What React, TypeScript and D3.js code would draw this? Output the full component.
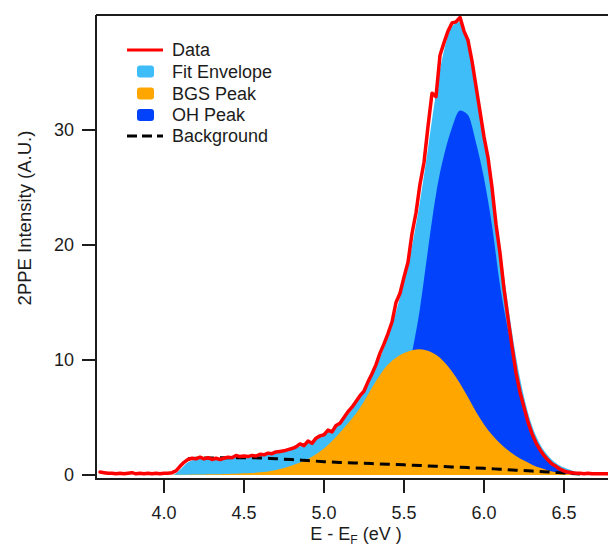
import { useEffect, useRef } from "react";
import * as d3 from "d3";

// measured 2PPE spectrum (red trace), 25 meV steps
const dataEnergy = [
  3.6, 3.625, 3.65, 3.675, 3.7, 3.725, 3.75, 3.775,
  3.8, 3.825, 3.85, 3.875, 3.9, 3.925, 3.95, 3.975,
  4.0, 4.025, 4.05, 4.075, 4.1, 4.125, 4.15, 4.175,
  4.2, 4.225, 4.25, 4.275, 4.3, 4.325, 4.35, 4.375,
  4.4, 4.425, 4.45, 4.475, 4.5, 4.525, 4.55, 4.575,
  4.6, 4.625, 4.65, 4.675, 4.7, 4.725, 4.75, 4.775,
  4.8, 4.825, 4.85, 4.875, 4.9, 4.925, 4.95, 4.975,
  5.0, 5.025, 5.05, 5.075, 5.1, 5.125, 5.15, 5.175,
  5.2, 5.225, 5.25, 5.275, 5.3, 5.325, 5.35, 5.375,
  5.4, 5.425, 5.45, 5.475, 5.5, 5.525, 5.55, 5.575,
  5.6, 5.625, 5.65, 5.675, 5.7, 5.725, 5.75, 5.775,
  5.8, 5.825, 5.85, 5.875, 5.9, 5.925, 5.95, 5.975,
  6.0, 6.025, 6.05, 6.075, 6.1, 6.125, 6.15, 6.175,
  6.2, 6.225, 6.25, 6.275, 6.3, 6.325, 6.35, 6.375,
  6.4, 6.425, 6.45, 6.475, 6.5, 6.525, 6.55, 6.575,
  6.6, 6.625, 6.65, 6.675, 6.7, 6.725, 6.75, 6.775,
];
const dataIntensity = [
  0.25, 0.2, 0.15, 0.15, 0.1, 0.15, 0.1, 0.15,
  0.2, 0.1, 0.15, 0.1, 0.15, 0.1, 0.15, 0.1,
  0.15, 0.15, 0.2, 0.35, 0.75, 1.1, 1.35, 1.45,
  1.4, 1.55, 1.4, 1.5, 1.35, 1.45, 1.35, 1.45,
  1.55, 1.5, 1.7, 1.6, 1.65, 1.6, 1.7, 1.65,
  1.8, 1.75, 1.9, 1.85, 2.0, 2.05, 2.1, 2.2,
  2.3, 2.45, 2.7, 2.55, 2.95, 2.75, 3.2, 3.4,
  3.5, 3.9, 3.75, 4.3, 4.5, 5.0, 5.5, 5.9,
  6.4, 6.9, 7.3, 8.1, 8.8, 9.6, 10.6, 11.4,
  12.3, 13.3, 15.0, 15.8, 17.2, 18.5, 21.0, 22.8,
  25.3, 27.2, 30.3, 33.2, 32.9, 36.5, 37.6, 38.6,
  39.3, 39.4, 39.8, 38.6, 37.8, 36.0, 33.8, 31.6,
  29.4, 27.6, 25.0, 21.8, 19.3, 16.2, 13.6, 11.2,
  8.9, 7.2, 5.9, 4.6, 3.6, 2.8, 2.2, 1.7,
  1.3, 0.95, 0.75, 0.5, 0.35, 0.25, 0.2, 0.15,
  0.15, 0.1, 0.15, 0.1, 0.1, 0.1, 0.1, 0.1,
];

// fit components, 50 meV steps
const fitEnergy = [
  4.0, 4.05, 4.1, 4.15, 4.2, 4.25, 4.3, 4.35, 4.4, 4.45,
  4.5, 4.55, 4.6, 4.65, 4.7, 4.75, 4.8, 4.85, 4.9, 4.95,
  5.0, 5.05, 5.1, 5.15, 5.2, 5.25, 5.3, 5.35, 5.4, 5.45,
  5.5, 5.55, 5.6, 5.65, 5.7, 5.75, 5.8, 5.85, 5.9, 5.95,
  6.0, 6.05, 6.1, 6.15, 6.2, 6.25, 6.3, 6.35, 6.4, 6.45,
  6.5, 6.55, 6.6, 6.65, 6.7, 6.75, 6.8,
];
const fitEnvelope = [
  0, 0, 0.45, 1.1, 1.35, 1.38, 1.4, 1.45, 1.5, 1.55,
  1.6, 1.65, 1.7, 1.78, 1.9, 2.05, 2.25, 2.48, 2.75, 3.07,
  3.45, 3.92, 4.5, 5.25, 6.2, 7.3, 8.6, 10.2, 12.0, 14.2,
  16.8, 19.9, 23.8, 28.4, 33.2, 36.9, 39.0, 39.4, 37.6, 34.1,
  29.6, 24.9, 19.9, 14.8, 10.3, 6.8, 4.3, 2.7, 1.7, 1.05,
  0.65, 0.4, 0.22, 0.12, 0.06, 0.03, 0,
];
const bgsPeak = [
  0, 0.01, 0.02, 0.03, 0.04, 0.05, 0.06, 0.07, 0.09, 0.11,
  0.14, 0.18, 0.23, 0.31, 0.43, 0.6, 0.82, 1.08, 1.4, 1.8,
  2.3, 2.95, 3.7, 4.5, 5.35, 6.4, 7.6, 8.7, 9.6, 10.2,
  10.6, 10.85, 10.93, 10.8, 10.45, 9.85, 9.0, 7.95, 6.75, 5.5,
  4.4, 3.5, 2.75, 2.15, 1.65, 1.25, 0.9, 0.62, 0.4, 0.24,
  0.12, 0.05, 0.02, 0, 0, 0, 0,
];
const ohPeak = [
  0, 0, 0, 0, 0, 0, 0, 0, 0, 0,
  0, 0, 0, 0, 0, 0.05, 0.1, 0.15, 0.2, 0.3,
  0.4, 0.55, 0.75, 1.0, 1.3, 1.7, 2.2, 2.9, 3.8, 5.2,
  7.5, 10.6, 14.5, 19.6, 24.4, 27.8, 30.2, 31.7, 31.3, 28.9,
  25.8, 21.7, 16.5, 12.6, 9.1, 6.2, 3.9, 2.2, 1.35, 0.7,
  0.3, 0.1, 0.03, 0, 0, 0, 0,
];

const bgEnergy = [
  4.15, 4.2, 4.3, 4.4, 4.5, 4.6, 4.7, 4.8, 4.9, 5.0, 5.1, 5.2, 5.3,
  5.4, 5.5, 5.6, 5.7, 5.8, 5.9, 6.0, 6.1, 6.2, 6.3, 6.4, 6.5, 6.6,
];
const background = [
  1.42, 1.45, 1.48, 1.5, 1.5, 1.48, 1.41, 1.34, 1.25, 1.16, 1.09, 1.04, 0.99,
  0.93, 0.88, 0.82, 0.76, 0.7, 0.64, 0.58, 0.5, 0.42, 0.34, 0.26, 0.17, 0.08,
];

const xTicks = [4.0, 4.5, 5.0, 5.5, 6.0, 6.5];
const yTicks = [0, 10, 20, 30];
const legendLabels = ["Data", "Fit Envelope", "BGS Peak", "OH Peak", "Background"];

const RED = "#ff0000";
const LIGHT_BLUE = "#3ebdf8";
const ORANGE = "#ffa600";
const DARK_BLUE = "#0342fb";
const INK = "#1c1c1c";
const FONT = "'Liberation Sans', Arial, Helvetica, sans-serif";

export default function App() {
  const svgRef = useRef<SVGSVGElement | null>(null);

  useEffect(() => {
    const svgEl = svgRef.current;
    if (!svgEl) return;
    const svg = d3.select(svgEl);
    svg.selectAll("*").remove();

    const left = 96;
    const right = 608;
    const top = 15;
    const bottom = 479;

    const x = d3.scaleLinear().domain([3.575, 6.775]).range([left, right]);
    const y = d3.scaleLinear().domain([-0.35, 40]).range([bottom, top]);

    const fit = fitEnergy.map((e, i) => ({
      e,
      env: fitEnvelope[i],
      bgs: bgsPeak[i],
      oh: ohPeak[i],
    }));
    const data = dataEnergy.map((e, i) => ({ e, v: dataIntensity[i] }));
    const bg = bgEnergy.map((e, i) => ({ e, v: background[i] }));

    svg
      .append("defs")
      .append("clipPath")
      .attr("id", "plot-clip")
      .append("rect")
      .attr("x", left)
      .attr("y", top)
      .attr("width", right - left)
      .attr("height", bottom - top);

    const plot = svg.append("g").attr("clip-path", "url(#plot-clip)");

    const fitArea = (key: "env" | "bgs" | "oh") =>
      d3
        .area<any>()
        .x((d) => x(d.e))
        .y0(y(0))
        .y1((d) => y(d[key]))
        .curve(d3.curveMonotoneX);

    plot.append("path").attr("d", fitArea("env")(fit)).attr("fill", LIGHT_BLUE);
    plot.append("path").attr("d", fitArea("oh")(fit)).attr("fill", DARK_BLUE);
    plot.append("path").attr("d", fitArea("bgs")(fit)).attr("fill", ORANGE);

    const line = d3
      .line<any>()
      .x((d) => x(d.e))
      .y((d) => y(d.v));

    plot
      .append("path")
      .attr("d", line.curve(d3.curveMonotoneX)(bg))
      .attr("fill", "none")
      .attr("stroke", "#000")
      .attr("stroke-width", 3)
      .attr("stroke-dasharray", "10 6");

    plot
      .append("path")
      .attr("d", line.curve(d3.curveLinear)(data))
      .attr("fill", "none")
      .attr("stroke", RED)
      .attr("stroke-width", 3.5)
      .attr("stroke-linejoin", "round")
      .attr("stroke-linecap", "round");

    // frame
    const frame = svg.append("g").attr("stroke", INK).attr("stroke-width", 2);
    frame.append("line").attr("x1", left).attr("x2", right).attr("y1", top).attr("y2", top);
    frame.append("line").attr("x1", left).attr("x2", left).attr("y1", top).attr("y2", bottom + 1);
    frame.append("line").attr("x1", left - 1).attr("x2", right).attr("y1", bottom).attr("y2", bottom);

    // y axis
    const yAxis = svg.append("g");
    yAxis
      .selectAll("line")
      .data(yTicks)
      .join("line")
      .attr("x1", left - 14)
      .attr("x2", left)
      .attr("y1", (d) => y(d))
      .attr("y2", (d) => y(d))
      .attr("stroke", INK)
      .attr("stroke-width", 2);
    yAxis
      .selectAll("text")
      .data(yTicks)
      .join("text")
      .attr("x", left - 22)
      .attr("y", (d) => y(d))
      .attr("dy", "0.36em")
      .attr("text-anchor", "end")
      .attr("font-family", FONT)
      .attr("font-size", 18)
      .attr("fill", INK)
      .text((d) => d);

    // x axis
    const xAxis = svg.append("g");
    xAxis
      .selectAll("line")
      .data(xTicks)
      .join("line")
      .attr("x1", (d) => x(d))
      .attr("x2", (d) => x(d))
      .attr("y1", bottom)
      .attr("y2", bottom + 14)
      .attr("stroke", INK)
      .attr("stroke-width", 2);
    xAxis
      .selectAll("text")
      .data(xTicks)
      .join("text")
      .attr("x", (d) => x(d))
      .attr("y", 519)
      .attr("text-anchor", "middle")
      .attr("font-family", FONT)
      .attr("font-size", 18)
      .attr("fill", INK)
      .text((d) => d.toFixed(1));

    const xTitle = svg
      .append("text")
      .attr("x", 356)
      .attr("y", 540)
      .attr("text-anchor", "middle")
      .attr("font-family", FONT)
      .attr("font-size", 18)
      .attr("fill", INK);
    xTitle.append("tspan").text("E - E");
    xTitle.append("tspan").attr("font-size", 12).attr("dy", 4).text("F");
    xTitle.append("tspan").attr("dy", -4).text(" (eV )");

    svg
      .append("text")
      .attr("transform", "translate(31,218) rotate(-90)")
      .attr("text-anchor", "middle")
      .attr("font-family", FONT)
      .attr("font-size", 18.5)
      .attr("fill", INK)
      .text("2PPE Intensity (A.U.)");

    // legend
    const rowY = [50, 71.5, 93.5, 115, 136];
    const legend = svg.append("g");
    legend
      .append("line")
      .attr("x1", 127)
      .attr("x2", 163)
      .attr("y1", rowY[0])
      .attr("y2", rowY[0])
      .attr("stroke", RED)
      .attr("stroke-width", 3);
    [LIGHT_BLUE, ORANGE, DARK_BLUE].forEach((c, i) => {
      legend
        .append("rect")
        .attr("x", 137)
        .attr("y", rowY[i + 1] - 6)
        .attr("width", 17)
        .attr("height", 12)
        .attr("rx", 3)
        .attr("fill", c);
    });
    legend
      .append("line")
      .attr("x1", 127)
      .attr("x2", 163)
      .attr("y1", rowY[4])
      .attr("y2", rowY[4])
      .attr("stroke", "#000")
      .attr("stroke-width", 3)
      .attr("stroke-dasharray", "10 5");
    legend
      .selectAll("text")
      .data(legendLabels)
      .join("text")
      .attr("x", 172)
      .attr("y", (_, i) => rowY[i])
      .attr("dy", "0.36em")
      .attr("font-family", FONT)
      .attr("font-size", 18)
      .attr("fill", INK)
      .text((d) => d);
  }, []);

  return (
    <svg
      ref={svgRef}
      width={608}
      height={547}
      style={{ position: "absolute", left: 0, top: 0, background: "#fff" }}
    />
  );
}
